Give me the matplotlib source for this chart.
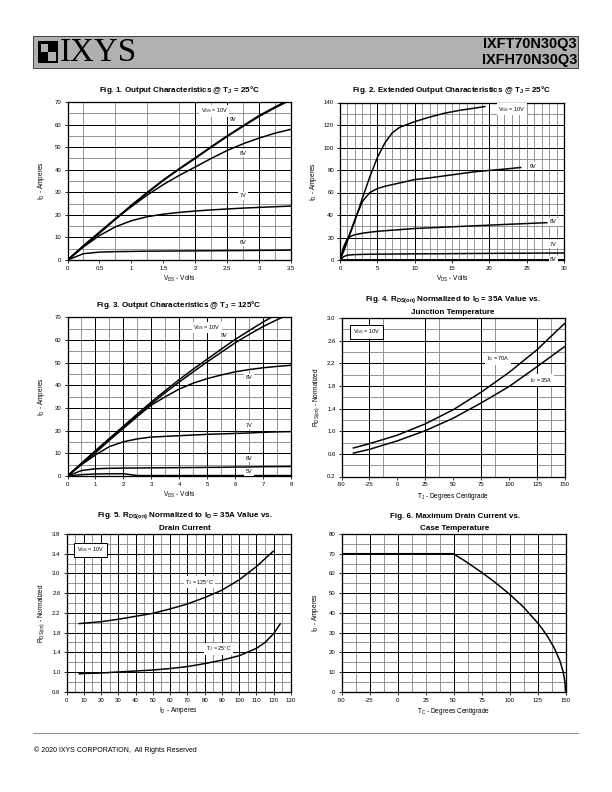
import matplotlib
matplotlib.use("Agg")
import matplotlib.pyplot as plt
from matplotlib.patches import Rectangle

plt.rcParams['font.family'] = ['Liberation Sans', 'DejaVu Sans']
plt.rcParams['mathtext.default'] = 'regular'

# ---------------- data ----------------
# Fig 1: output characteristics @ 25C (VDS volts -> ID amps)
f1_vds = [0, 0.25, 0.5, 0.75, 1.0, 1.25, 1.5, 1.75, 2.0, 2.25, 2.5, 2.75, 3.0, 3.25, 3.5]
f1_10v = [0, 6.0, 12.0, 18.2, 24.3, 30.0, 35.5, 40.5, 45.3, 50.2, 55.0, 59.5, 64.0, 67.8, 71.5]
f1_9v = [0, 6.0, 11.9, 18.0, 24.0, 29.7, 35.2, 40.2, 45.0, 49.9, 54.7, 59.2, 63.6, 67.4, 71.0]
f1_8v = [0, 6.4, 12.4, 18.3, 23.6, 28.8, 33.4, 37.5, 41.2, 45.0, 48.5, 51.5, 54.0, 56.2, 57.9]
f1_7v = [0, 5.8, 10.8, 14.7, 17.4, 19.2, 20.3, 21.1, 21.7, 22.2, 22.6, 23.0, 23.3, 23.6, 23.9]
f1_6v = [0, 2.8, 3.5, 3.7, 3.8, 3.9, 3.95, 4.0, 4.05, 4.1, 4.15, 4.2, 4.25, 4.3, 4.4]

# Fig 2: extended output characteristics @ 25C
f2_vds = [0, 0.5, 1, 1.5, 2, 3, 4, 5, 6, 7, 8, 10, 12, 14, 16, 18, 19.5, 22, 24.3, 26, 27.8, 30]
f2_10v = [0, 8, 17, 26, 35, 55, 74, 91, 104, 113, 118, 123, 127, 130.5, 133, 135, 136.5, None, None, None, None, None]
f2_9v = [0, 9, 18, 27, 36, 52, 60, 63.5, 65.5, 67, 68.5, 71.5, 73, 74.8, 76.6, 78.4, 79.3, 80.8, 82.3, None, None, None]
f2_8v = [0, 12, 19, 21.3, 22.5, 23.8, 24.7, 25.5, 26.0, 26.5, 27.0, 28.0, 28.6, 29.2, 29.8, 30.4, 30.8, 31.6, 32.2, 32.7, 33.2, None]
f2_7v = [0, 3.0, 4.3, 4.6, 4.8, 5.0, 5.1, 5.2, 5.25, 5.3, 5.35, 5.5, 5.55, 5.6, 5.7, 5.8, 5.85, 5.95, 6.0, 6.1, 6.15, 6.2]
f2_6v = [0, 0.1, 0.15, 0.2, 0.2, 0.2, 0.2, 0.2, 0.2, 0.2, 0.2, 0.2, 0.2, 0.2, 0.2, 0.2, 0.2, 0.2, 0.2, 0.2, 0.2, 0.2]

# Fig 3: output characteristics @ 125C
f3_vds = [0, 0.5, 1, 1.5, 2, 2.5, 3, 3.5, 4, 4.5, 5, 5.5, 6, 6.5, 7, 7.5, 8]
f3_10v = [0, 5.6, 11.2, 16.6, 22.0, 27.4, 32.7, 37.7, 42.6, 47.2, 51.6, 56.0, 60.3, 64.2, 68.0, 71.5, None]
f3_9v = [0, 5.6, 11.0, 16.3, 21.6, 26.8, 31.9, 36.8, 41.5, 46.0, 50.4, 54.6, 58.8, 62.5, 66.0, 69.0, 71.8]
f3_8v = [0, 5.3, 10.2, 15.8, 21.0, 26.3, 31.3, 35.0, 38.4, 41.0, 43.0, 44.6, 46.0, 47.0, 47.8, 48.4, 48.9]
f3_7v = [0, 5.0, 9.3, 13.0, 15.1, 16.4, 17.2, 17.5, 17.8, 18.1, 18.4, 18.6, 18.8, 19.0, 19.3, 19.5, 19.6]
f3_6v = [0, 2.4, 3.2, 3.4, 3.5, 3.55, 3.6, 3.65, 3.7, 3.75, 3.8, 3.85, 3.95, 4.0, 4.1, 4.15, 4.2]
f3_5v = [0, 0.6, 0.9, 1.0, 1.0, 0.2, 0.2, 0.2, 0.2, 0.2, 0.2, 0.2, 0.2, 0.2, 0.2, 0.2, 0.2]

# Fig 4: RDS(on) normalized vs junction temperature
f4_tj = [-40, -25, 0, 25, 50, 75, 100, 125, 150]
f4_70a = [0.70, 0.78, 0.93, 1.13, 1.38, 1.69, 2.04, 2.44, 2.91]
f4_35a = [0.61, 0.68, 0.83, 1.01, 1.23, 1.50, 1.79, 2.14, 2.50]

# Fig 5: RDS(on) normalized vs drain current
f5_id125 = [7, 10, 20, 30, 40, 50, 60, 70, 80, 90, 100, 110, 120]
f5_125c = [1.98, 1.99, 2.02, 2.07, 2.13, 2.19, 2.28, 2.38, 2.51, 2.66, 2.87, 3.14, 3.46]
f5_id25 = [7, 10, 20, 30, 40, 50, 60, 70, 80, 90, 100, 110, 115, 120, 124]
f5_25c = [0.96, 0.97, 0.98, 1.00, 1.02, 1.04, 1.07, 1.11, 1.17, 1.24, 1.33, 1.48, 1.60, 1.78, 1.99]

# Fig 6: maximum drain current vs case temperature
f6_tc = [-50, 50, 60, 75, 87.5, 100, 112.5, 125, 130, 135, 140, 145, 148, 149.5, 150]
f6_id = [70, 70, 66.4, 60.6, 55.3, 49.5, 42.9, 35.0, 31.3, 27.1, 22.1, 15.7, 9.9, 5.0, 0]

# ---------------- figure ----------------
W, H = 612, 792
fig = plt.figure(figsize=(W / 72, H / 72), dpi=72)


def make_ax(x0, x1, y0, y1):
    return fig.add_axes([x0 / W, 1 - y1 / H, (x1 - x0) / W, (y1 - y0) / H])


def style(ax, xlim, ylim, xticks, yticks, xt_lab, yt_lab, gx_gray, gx_black, gy_gray, gy_black):
    ax.set_xlim(*xlim)
    ax.set_ylim(*ylim)
    for v in gx_gray:
        ax.axvline(v, color='#8c8c8c', lw=0.9, zorder=1)
    for v in gy_gray:
        ax.axhline(v, color='#8c8c8c', lw=0.9, zorder=1)
    for v in gx_black:
        ax.axvline(v, color='black', lw=1.0, zorder=1.5)
    for v in gy_black:
        ax.axhline(v, color='black', lw=1.0, zorder=1.5)
    ax.set_xticks(xticks)
    ax.set_yticks(yticks)
    ax.set_xticklabels(xt_lab)
    ax.set_yticklabels(yt_lab)
    ax.tick_params(labelsize=6, length=3, width=0.8, direction='out', pad=3)
    for s in ax.spines.values():
        s.set_linewidth(1.3)
        s.set_zorder(3)


def lab(ax, x, y, s, box=False, fs=5.5):
    if box:
        ax.text(x, y, s, fontsize=fs, ha='center', va='center', zorder=5,
                bbox=dict(boxstyle='square,pad=0.45', fc='white', ec='black', lw=1.0))
    else:
        ax.text(x, y, s, fontsize=fs, ha='center', va='center', zorder=5,
                bbox=dict(boxstyle='square,pad=0.25', fc='white', ec='none'))


CL = dict(color='black', lw=1.5, zorder=4, solid_capstyle='butt')


def curve(ax, xs, ys):
    px = [a for a, b in zip(xs, ys) if b is not None]
    py = [b for b in ys if b is not None]
    ax.plot(px, py, **CL)


def title(xc, yc, s):
    fig.text(xc / W, 1 - yc / H, s, fontsize=TFS, fontweight='bold', ha='center', va='center')


TFS = 8.0
LFS = 6.5

# ---- Fig 1 ----
ax1 = make_ax(67.5, 291, 102, 260)
style(ax1, (0, 3.5), (0, 70),
      [0, 0.5, 1, 1.5, 2, 2.5, 3, 3.5], range(0, 71, 10),
      ['0', '0.5', '1', '1.5', '2', '2.5', '3', '3.5'], [str(v) for v in range(0, 71, 10)],
      [0.25, 0.75, 1.25, 1.75, 2.25, 2.75, 3.25], [2, 2.5, 3],
      [5, 15, 25, 35, 45, 55, 65], [10, 20, 30, 40, 50, 60])
for ys in (f1_10v, f1_9v, f1_8v, f1_7v, f1_6v):
    curve(ax1, f1_vds, ys)
lab(ax1, 2.3, 66, r'V$_{GS}$ = 10V')
lab(ax1, 2.6, 62.3, '9V')
lab(ax1, 2.75, 47.3, '8V')
lab(ax1, 2.75, 28.5, '7V')
lab(ax1, 2.75, 7.7, '6V')
title(179, 90, r'Fig. 1. Output Characteristics @ T$_J$ = 25°C')
ax1.set_xlabel(r'V$_{DS}$ - Volts', fontsize=LFS, labelpad=3)
ax1.set_ylabel(r'I$_D$ - Amperes', fontsize=LFS, labelpad=8)

# ---- Fig 2 ----
ax2 = make_ax(340, 564, 102.5, 260)
style(ax2, (0, 30), (0, 140),
      range(0, 31, 5), range(0, 141, 20),
      [str(v) for v in range(0, 31, 5)], [str(v) for v in range(0, 141, 20)],
      [1, 2, 3, 4, 6, 7, 8, 9, 11, 12, 13, 14, 15, 16, 17, 18, 19, 21, 22, 23, 24, 25, 26, 27, 28, 29],
      [5, 10, 20],
      [10, 30, 50, 70, 90, 110, 130], [20, 40, 60, 80, 100, 120])
for ys in (f2_10v, f2_9v, f2_8v, f2_7v, f2_6v):
    curve(ax2, f2_vds, ys)
lab(ax2, 23.0, 134, r'V$_{GS}$ = 10V')
lab(ax2, 25.9, 83.5, '9V')
lab(ax2, 28.6, 34, '8V')
lab(ax2, 28.6, 14, '7V')
lab(ax2, 28.6, 0.5, '6V')
title(452, 90, r'Fig. 2. Extended Output Characteristics @ T$_J$ = 25°C')
ax2.set_xlabel(r'V$_{DS}$ - Volts', fontsize=LFS, labelpad=3)
ax2.set_ylabel(r'I$_D$ - Amperes', fontsize=LFS, labelpad=5)

# ---- Fig 3 ----
ax3 = make_ax(67.5, 291, 317.5, 476)
style(ax3, (0, 8), (0, 70),
      range(0, 9), range(0, 71, 10),
      [str(v) for v in range(0, 9)], [str(v) for v in range(0, 71, 10)],
      [0.5, 1.5, 2.5, 3.5, 4.5, 5.5, 6.5, 7.5], [1, 2, 3, 4, 5, 6, 7],
      [5, 15, 25, 35, 45, 55, 65], [10, 20, 30, 40, 50, 60])
for ys in (f3_10v, f3_9v, f3_8v, f3_7v, f3_6v, f3_5v):
    curve(ax3, f3_vds, ys)
lab(ax3, 5.0, 65.6, r'V$_{GS}$ = 10V')
lab(ax3, 5.6, 62.2, '9V')
lab(ax3, 6.5, 43.5, '8V')
lab(ax3, 6.5, 22.5, '7V')
lab(ax3, 6.5, 7.8, '6V')
lab(ax3, 6.5, 1.9, '5V')
title(179, 305, r'Fig. 3. Output Characteristics @ T$_J$ = 125°C')
ax3.set_xlabel(r'V$_{DS}$ - Volts', fontsize=LFS, labelpad=3)
ax3.set_ylabel(r'I$_D$ - Amperes', fontsize=LFS, labelpad=8)

# ---- Fig 4 ----
ax4 = make_ax(341.5, 565, 318, 476.5)
yt4 = [0.2, 0.6, 1.0, 1.4, 1.8, 2.2, 2.6, 3.0]
style(ax4, (-50, 150), (0.2, 3.0),
      range(-50, 151, 25), yt4,
      [str(v) for v in range(-50, 151, 25)], [f"{v:.1f}" for v in yt4],
      [-12.5, 37.5, 87.5, 137.5], [-25, 25, 75, 125],
      [0.4, 0.8, 1.2, 1.6, 2.0, 2.4, 2.8], [0.6, 1.0, 1.4, 1.8, 2.2, 2.6])
curve(ax4, f4_tj, f4_70a)
curve(ax4, f4_tj, f4_35a)
lab(ax4, -27.5, 2.76, r'V$_{GS}$ = 10V', box=True)
lab(ax4, 90, 2.28, r'I$_D$ = 70A')
lab(ax4, 129, 1.90, r'I$_D$ = 35A')
title(453, 300, r'Fig. 4. R$_{DS(on)}$ Normalized to I$_D$ = 35A Value vs.')
title(453, 312, 'Junction Temperature')
ax4.set_xlabel(r'T$_J$ - Degrees Centigrade', fontsize=LFS, labelpad=3)
ax4.set_ylabel(r'R$_{DS(on)}$ - Normalized', fontsize=LFS, labelpad=5)

# ---- Fig 5 ----
ax5 = make_ax(66.5, 291, 534, 691.7)
yt5 = [0.6, 1.0, 1.4, 1.8, 2.2, 2.6, 3.0, 3.4, 3.8]
style(ax5, (0, 130), (0.6, 3.8),
      range(0, 131, 10), yt5,
      [str(v) for v in range(0, 131, 10)], [f"{v:.1f}" for v in yt5],
      [5, 15, 25, 35, 45, 55, 65, 75, 85, 95, 105, 115, 125], list(range(10, 121, 10)),
      [0.8, 1.2, 1.6, 2.0, 2.4, 2.8, 3.2, 3.6], [1.0, 1.4, 1.8, 2.2, 2.6, 3.0, 3.4])
curve(ax5, f5_id125, f5_125c)
curve(ax5, f5_id25, f5_25c)
lab(ax5, 14, 3.48, r'V$_{GS}$ = 10V', box=True)
lab(ax5, 77, 2.82, r'T$_J$ = 125°C')
lab(ax5, 88, 1.47, r'T$_J$ = 25°C')
title(185, 516, r'Fig. 5. R$_{DS(on)}$ Normalized to I$_D$ = 35A Value vs.')
title(185, 528, 'Drain Current')
ax5.set_xlabel(r'I$_D$ - Amperes', fontsize=LFS, labelpad=2)
ax5.set_ylabel(r'R$_{DS(on)}$ - Normalized', fontsize=LFS, labelpad=5)

# ---- Fig 6 ----
ax6 = make_ax(341.5, 565.5, 534, 691.7)
style(ax6, (-50, 150), (0, 80),
      range(-50, 151, 25), range(0, 81, 10),
      [str(v) for v in range(-50, 151, 25)], [str(v) for v in range(0, 81, 10)],
      [-37.5, -12.5, 12.5, 25, 37.5, 62.5, 75, 87.5, 112.5, 137.5], [-25, 0, 50, 100, 125],
      [5, 15, 25, 35, 45, 55, 65, 75], [10, 20, 30, 40, 50, 60, 70])
ax6.plot(f6_tc, f6_id, **CL)
title(455, 516, 'Fig. 6. Maximum Drain Current vs.')
title(455, 528, 'Case Temperature')
ax6.set_xlabel(r'T$_C$ - Degrees Centigrade', fontsize=LFS, labelpad=3)
ax6.set_ylabel(r'I$_D$ - Amperes', fontsize=LFS, labelpad=8)

# ---------------- header / footer ----------------
HG = '#b0b0b0'
fig.patches.append(Rectangle((33 / W, 1 - 68 / H), 545 / W, 32 / H, transform=fig.transFigure,
                             fc=HG, ec='#444444', lw=1.0, zorder=0))
# logo square
fig.patches.append(Rectangle((38 / W, 1 - 63 / H), 20 / W, 22 / H, transform=fig.transFigure,
                             fc='black', ec='none', zorder=1))
fig.patches.append(Rectangle((40.5 / W, 1 - 52 / H), 7 / W, 8.5 / H, transform=fig.transFigure,
                             fc=HG, ec='none', zorder=2))
fig.patches.append(Rectangle((47.5 / W, 1 - 60.5 / H), 8 / W, 8.5 / H, transform=fig.transFigure,
                             fc=HG, ec='none', zorder=2))
fig.text(60 / W, 1 - 53 / H, 'IXYS', fontsize=33, family='Liberation Serif', va='center', ha='left')
fig.text(577 / W, 1 - 44 / H, 'IXFT70N30Q3', fontsize=14.5, fontweight='bold', ha='right', va='center')
fig.text(577 / W, 1 - 60 / H, 'IXFH70N30Q3', fontsize=14.5, fontweight='bold', ha='right', va='center')

fig.add_artist(plt.Line2D([33 / W, 578 / W], [1 - 733 / H, 1 - 733 / H], color='#777777', lw=0.8))
fig.text(34 / W, 1 - 750 / H, '© 2020 IXYS CORPORATION,  All Rights Reserved', fontsize=7, ha='left', va='center')

fig.savefig('out.png', dpi=72)
